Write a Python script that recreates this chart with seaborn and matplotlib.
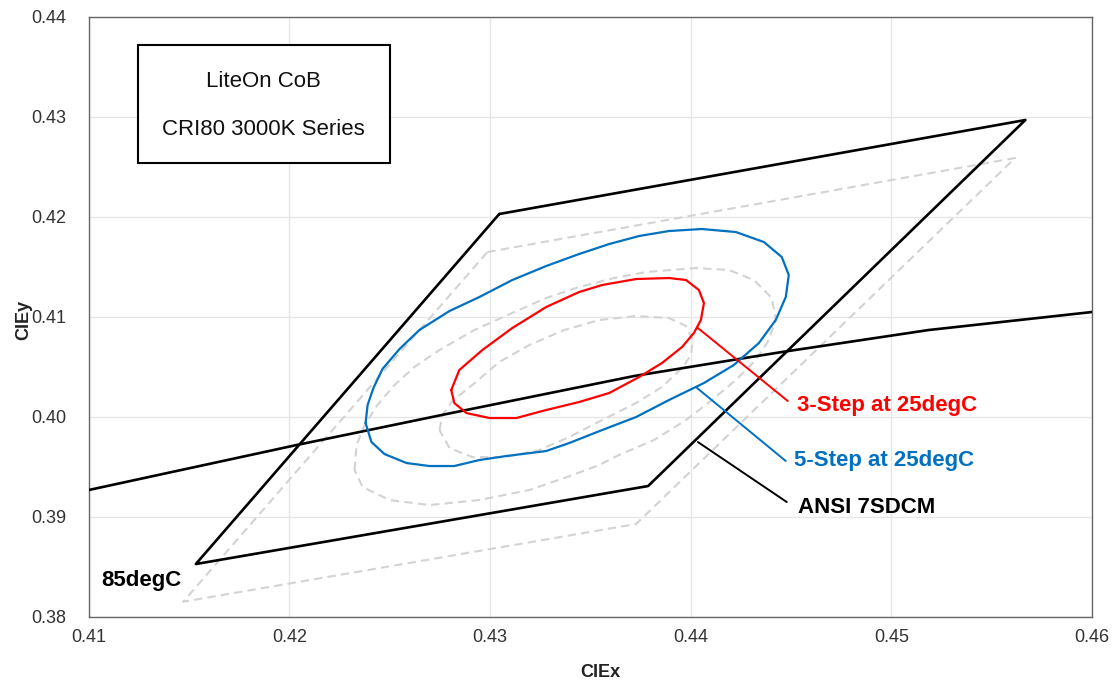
import matplotlib
matplotlib.use("Agg")
import matplotlib.pyplot as plt
import seaborn as sns
import pandas as pd
from matplotlib.patches import Rectangle

# ---------------- data ----------------
# ANSI 7-step quadrangle at 25 degC (closed)
ansi_x = [0.43046, 0.45668, 0.43788, 0.41534, 0.43046]
ansi_y = [0.42027, 0.42967, 0.39307, 0.38527, 0.42027]

# Shifted quadrangle at 85 degC (closed, dashed)
hot_quad_x = [0.42987, 0.45617, 0.43728, 0.41471, 0.42987]
hot_quad_y = [0.41647, 0.42587, 0.38927, 0.38150, 0.41647]

# Black-body locus
bbl_x = [0.41000, 0.42036, 0.42783, 0.43718, 0.44454, 0.45186, 0.46000]
bbl_y = [0.39267, 0.39717, 0.40027, 0.40407, 0.40647, 0.40867, 0.41047]

# 5-step MacAdam ellipse at 25 degC
step5_x = [0.42380, 0.42390, 0.42419, 0.42464, 0.42549, 0.42648, 0.42798, 0.42947,
           0.43111, 0.43280, 0.43444, 0.43594, 0.43743, 0.43892, 0.44056, 0.44225,
           0.44365, 0.44454, 0.44489, 0.44474, 0.44424, 0.44340, 0.44215, 0.44066,
           0.43892, 0.43728, 0.43559, 0.43395, 0.43280, 0.43081, 0.42947, 0.42822,
           0.42698, 0.42584, 0.42474, 0.42409, 0.42380]
step5_y = [0.39937, 0.40117, 0.40287, 0.40477, 0.40677, 0.40867, 0.41057, 0.41197,
           0.41367, 0.41507, 0.41627, 0.41727, 0.41807, 0.41857, 0.41877, 0.41847,
           0.41747, 0.41597, 0.41417, 0.41197, 0.40967, 0.40737, 0.40517, 0.40337,
           0.40167, 0.39997, 0.39867, 0.39737, 0.39657, 0.39607, 0.39567, 0.39507,
           0.39507, 0.39537, 0.39627, 0.39747, 0.39937]

# 3-step MacAdam ellipse at 25 degC
step3_x = [0.42807, 0.42847, 0.42962, 0.43111, 0.43280, 0.43444, 0.43559, 0.43728,
           0.43892, 0.43977, 0.44041, 0.44066, 0.44051, 0.44016, 0.43957, 0.43857,
           0.43743, 0.43594, 0.43444, 0.43280, 0.43131, 0.42997, 0.42882, 0.42822,
           0.42807]
step3_y = [0.40267, 0.40467, 0.40667, 0.40887, 0.41097, 0.41247, 0.41317, 0.41377,
           0.41387, 0.41367, 0.41267, 0.41137, 0.40967, 0.40837, 0.40697, 0.40537,
           0.40397, 0.40237, 0.40147, 0.40067, 0.39987, 0.39987, 0.40037, 0.40137,
           0.40267]

# 5-step ellipse at 85 degC (dashed)
hot5_x = [0.42325, 0.42335, 0.42375, 0.42439, 0.42524, 0.42623, 0.42748, 0.42922,
          0.43111, 0.43280, 0.43444, 0.43618, 0.43778, 0.44026, 0.44191, 0.44315,
          0.44405, 0.44424, 0.44390, 0.44325, 0.44225, 0.44106, 0.43977, 0.43817,
          0.43643, 0.43544, 0.43370, 0.43196, 0.42947, 0.42698, 0.42499, 0.42365,
          0.42325]
hot5_y = [0.39467, 0.39717, 0.39917, 0.40117, 0.40317, 0.40497, 0.40667, 0.40867,
          0.41037, 0.41187, 0.41297, 0.41387, 0.41447, 0.41487, 0.41467, 0.41367,
          0.41187, 0.40967, 0.40767, 0.40567, 0.40367, 0.40167, 0.39967, 0.39767,
          0.39617, 0.39517, 0.39387, 0.39267, 0.39167, 0.39117, 0.39167, 0.39297,
          0.39467]

# 3-step ellipse at 85 degC (dashed)
hot3_x = [0.42748, 0.42763, 0.42812, 0.42912, 0.43046, 0.43196, 0.43370, 0.43544,
          0.43728, 0.43892, 0.43977, 0.44011, 0.44002, 0.43957, 0.43857, 0.43728,
          0.43559, 0.43395, 0.43245, 0.43081, 0.42912, 0.42798, 0.42748]
hot3_y = [0.39867, 0.40017, 0.40157, 0.40317, 0.40547, 0.40717, 0.40867, 0.40967,
          0.41007, 0.40987, 0.40907, 0.40767, 0.40617, 0.40487, 0.40297, 0.40137,
          0.39967, 0.39797, 0.39667, 0.39597, 0.39597, 0.39687, 0.39867]

# annotation labels: (text, colour, leader start, leader end, text anchor)
labels = ["3-Step at 25degC", "5-Step at 25degC", "ANSI 7SDCM"]
label_colors = ["#ff0000", "#0070c0", "#000000"]
leader_start = [(0.44036, 0.40887), (0.44026, 0.40297), (0.44036, 0.39747)]
leader_end = [(0.44484, 0.40157), (0.44474, 0.39557), (0.44479, 0.39147)]
label_pos = [(0.44529, 0.40117), (0.44514, 0.39567), (0.44534, 0.39097)]

hot_label = "85degC"
hot_label_pos = (0.41061, 0.38367)

title_lines = ["LiteOn CoB", "CRI80 3000K Series"]

x_ticks = [0.41, 0.42, 0.43, 0.44, 0.45, 0.46]
y_ticks = [0.38, 0.39, 0.40, 0.41, 0.42, 0.43, 0.44]
x_ticklabels = ["0.41", "0.42", "0.43", "0.44", "0.45", "0.46"]
y_ticklabels = ["0.38", "0.39", "0.40", "0.41", "0.42", "0.43", "0.44"]

# ---------------- plotting ----------------
sns.set_theme(style="white")
plt.rcParams["font.family"] = ["Liberation Sans", "DejaVu Sans"]

fig = plt.figure(figsize=(11.17, 6.82), dpi=100)
ax = fig.add_axes([0.0794, 0.0957, 0.8982, 0.8798])

GRAY = "#d3d3d3"


def draw(xs, ys, color, lw, dashed=False, z=3):
    df = pd.DataFrame({"x": xs, "y": ys})
    sns.lineplot(data=df, x="x", y="y", sort=False, estimator=None, ax=ax,
                 color=color, linewidth=lw, zorder=z)
    if dashed:
        ax.lines[-1].set_dashes([4, 2.5])


draw(hot_quad_x, hot_quad_y, GRAY, 1.5, dashed=True, z=2)
draw(hot5_x, hot5_y, GRAY, 1.5, dashed=True, z=2)
draw(hot3_x, hot3_y, GRAY, 1.5, dashed=True, z=2)
draw(bbl_x, bbl_y, "black", 1.9, z=3)
draw(ansi_x, ansi_y, "black", 1.9, z=3)
draw(step5_x, step5_y, "#0070c0", 1.6, z=4)
draw(step3_x, step3_y, "#ff0000", 1.6, z=5)

for txt, col, s, e, p in zip(labels, label_colors, leader_start, leader_end, label_pos):
    ax.annotate("", xy=s, xytext=e,
                arrowprops=dict(arrowstyle="-", color=col, lw=1.4,
                                shrinkA=0, shrinkB=0), zorder=6)
    ax.text(p[0], p[1], txt, color=col, fontsize=16, fontweight="bold",
            ha="left", va="center", zorder=6)

ax.text(hot_label_pos[0], hot_label_pos[1], hot_label, color="black",
        fontsize=16, fontweight="bold", ha="left", va="center", zorder=6)

# title box
ax.add_patch(Rectangle((0.0491, 0.7562), 0.2512, 0.1966, transform=ax.transAxes,
                       fill=True, facecolor="white", edgecolor="black", lw=1.5, zorder=7))
ax.text(0.1737, 0.8912, title_lines[0], transform=ax.transAxes, fontsize=16,
        ha="center", va="center", zorder=8, color="#111111")
ax.text(0.1737, 0.8128, title_lines[1], transform=ax.transAxes, fontsize=16,
        ha="center", va="center", zorder=8, color="#111111")

ax.set_xlim(x_ticks[0], x_ticks[-1])
ax.set_ylim(y_ticks[0], y_ticks[-1])
ax.set_xticks(x_ticks)
ax.set_yticks(y_ticks)
ax.set_xticklabels(x_ticklabels)
ax.set_yticklabels(y_ticklabels)
ax.tick_params(axis="both", length=0, labelsize=13, colors="#333333")
ax.tick_params(axis="y", pad=16)
ax.tick_params(axis="x", pad=9)
ax.grid(True, color="#e6e6e6", linewidth=1.0, zorder=0)
ax.set_axisbelow(True)
for sp in ax.spines.values():
    sp.set_color("#666666")
    sp.set_linewidth(1.0)
    sp.set_visible(True)

ax.set_xlabel("CIEx", fontsize=13, fontweight="bold", color="#222222")
ax.set_ylabel("CIEy", fontsize=13, fontweight="bold", color="#222222")
ax.xaxis.set_label_coords(0.5096, -0.079)
ax.yaxis.set_label_coords(-0.0565, 0.4945)

fig.savefig("out.png", dpi=100)
